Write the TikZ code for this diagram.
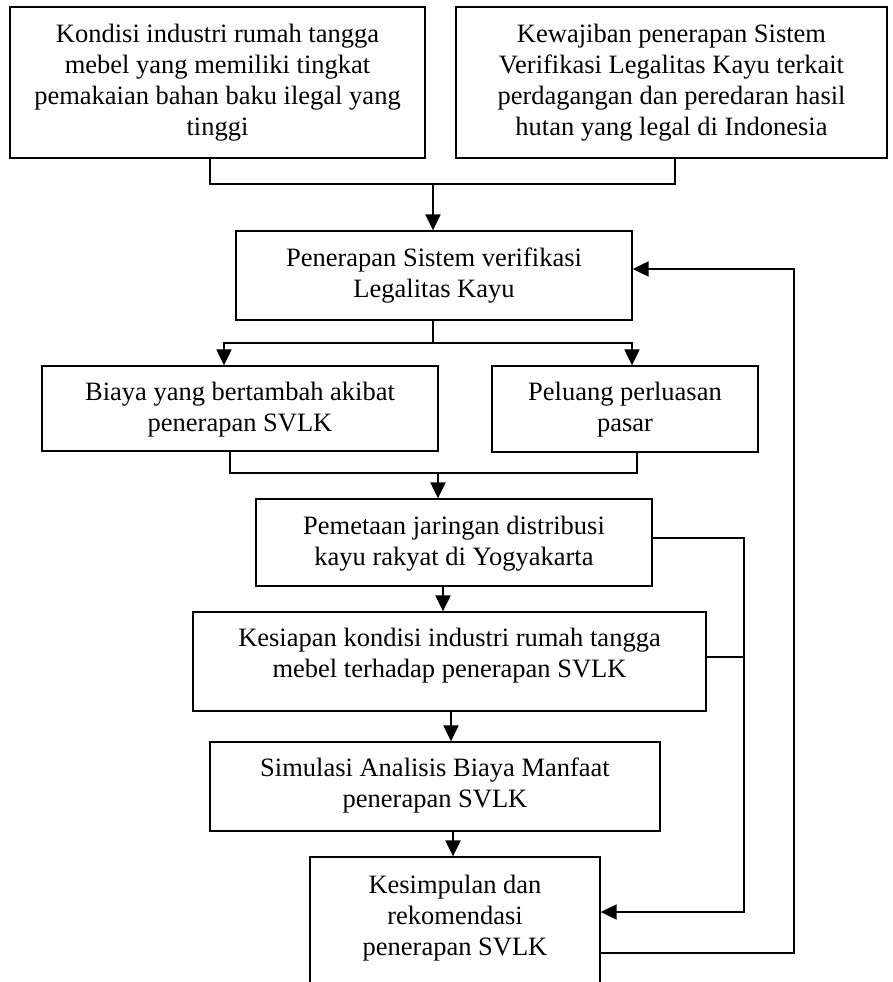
\documentclass[tikz,border=0pt]{standalone}
\usepackage{fontspec}
\setmainfont{Liberation Serif}
\usetikzlibrary{arrows.meta,calc}
\begin{document}
\begin{tikzpicture}[x=1pt,y=-1pt,
  box/.style={draw, line width=1.3pt, rectangle, inner sep=0pt},
  txt/.style={font=\fontsize{26.5}{31}\selectfont, align=center, inner sep=0pt, anchor=north},
  conn/.style={line width=2pt},
  arr/.style={line width=2.1pt, -{Triangle[length=16pt,width=15pt]}},
]
\useasboundingbox (0,0) rectangle (892,982);
\fill[white] (0,0) rectangle (892,982);
\clip (0,0) rectangle (892,982);

% boxes
\node[box, minimum width=415pt, minimum height=151pt] (B1) at (217.5,82.5) {};
\node[box, minimum width=431pt, minimum height=151pt] (B2) at (671.5,82.5) {};
\node[box, minimum width=396pt, minimum height=89pt] (B3) at (434,275.5) {};
\node[box, minimum width=396pt, minimum height=85pt] (B4) at (240,408.5) {};
\node[box, minimum width=266pt, minimum height=86pt] (B5) at (625,409) {};
\node[box, minimum width=396pt, minimum height=87pt] (B6) at (454,542.5) {};
\node[box, minimum width=513pt, minimum height=99pt] (B7) at (449.5,661.5) {};
\node[box, minimum width=450pt, minimum height=89pt] (B8) at (435,786.5) {};
\node[box, minimum width=290pt, minimum height=143pt] (B9) at (455,928.5) {};

% texts
\node[txt] (T1) at (217.5,24) {Kondisi industri rumah tangga\\mebel yang memiliki tingkat\\pemakaian bahan baku ilegal yang\\tinggi};
\node[txt] (T2) at (671.5,24) {Kewajiban penerapan Sistem\\Verifikasi Legalitas Kayu terkait\\perdagangan dan peredaran hasil\\hutan yang legal di Indonesia};
\node[txt] (T3) at (434,248) {Penerapan Sistem verifikasi\\Legalitas Kayu};
\node[txt] (T4) at (240,382) {Biaya yang bertambah akibat\\penerapan SVLK};
\node[txt] (T5) at (625,382) {Peluang perluasan\\pasar};
\node[txt] (T6) at (454,516) {Pemetaan jaringan distribusi\\kayu rakyat di Yogyakarta};
\node[txt] (T7) at (449.5,628) {Kesiapan kondisi industri rumah tangga\\mebel terhadap penerapan SVLK};
\node[txt] (T8) at (435,758) {Simulasi Analisis Biaya Manfaat\\penerapan SVLK};
\node[txt] (T9) at (455,875) {Kesimpulan dan\\rekomendasi\\penerapan SVLK};

% top merge
\coordinate (j1) at (433,184);
\draw[conn] ([xshift=-7.5pt]B1.south) |- (j1) -| ([xshift=3.5pt]B2.south);
\draw[arr] (j1) -- (j1 |- B3.north);

% split
\coordinate (j2) at (433,343);
\draw[conn] (B3.south -| j2) -- (j2);
\draw[arr] (j2) -| ([xshift=-16pt]B4.north);
\draw[arr] (j2) -| ([xshift=7pt]B5.north);

% merge 2
\coordinate (j3) at (438,473);
\draw[conn] ([xshift=-10pt]B4.south) |- (j3) -| ([xshift=12pt]B5.south);
\draw[arr] (j3) -- (j3 |- B6.north);

% chain
\coordinate (a1) at ([xshift=-11pt]B6.south);
\draw[arr] (a1) -- (a1 |- B7.north);
\coordinate (a2) at ([xshift=1.5pt]B7.south);
\draw[arr] (a2) -- (a2 |- B8.north);
\coordinate (a3) at ([xshift=18pt]B8.south);
\draw[arr] (a3) -- (a3 |- B9.north);

% right feedback lines
\coordinate (r1) at (744,538);
\coordinate (r2) at (744,912);
\coordinate (r3) at (744,657);
\draw[arr] (B6.east |- r1) -| (r2) -- (B9.east |- r2);
\draw[conn] (B7.east |- r3) -- (r3);

\coordinate (r4) at (794,953);
\coordinate (r5) at (794,269);
\draw[arr] (B9.east |- r4) -- (r4) -- (r5) -- (B3.east |- r5);
\end{tikzpicture}
\end{document}
